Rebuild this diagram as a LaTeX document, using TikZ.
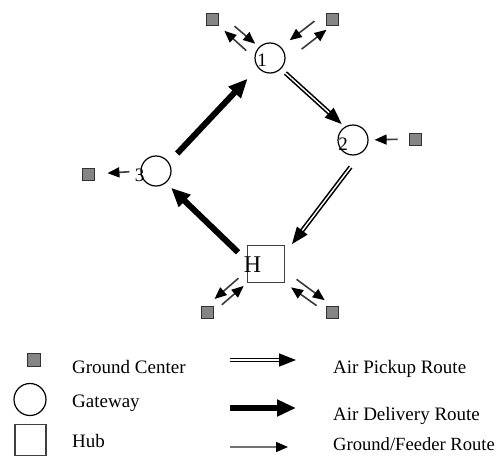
\documentclass[tikz,border=0pt]{standalone}
\usepackage{fontspec}
\setmainfont{Liberation Serif}
\usetikzlibrary{arrows.meta}
\definecolor{gcfill}{HTML}{858585}
\definecolor{feedline}{HTML}{3A3A3A}

\tikzset{
  gw/.style={circle, draw, line width=1.2pt, minimum size=30pt, inner sep=0pt},
  hub/.style={rectangle, draw=black!75, line width=1.6pt, minimum size=37pt, inner sep=0pt},
  gc/.style={rectangle, draw=black!80, fill=gcfill, line width=0.9pt, minimum size=12pt, inner sep=0pt},
  numlbl/.style={anchor=base, inner sep=0pt, font=\fontsize{19}{19}\selectfont},
  legtext/.style={anchor=base west, inner sep=0pt, font=\fontsize{19}{22}\selectfont},
  delivery/.style={line width=6pt, -{Triangle[length=19pt,width=16pt]}},
  pickup/.style={line width=1.6pt, double=white, double distance=1.4pt, -{Triangle[length=17pt,width=13pt]}},
  feeder/.style={draw=feedline, line width=1.6pt, -{Triangle[length=12pt,width=10pt,color=black]}},
}

\begin{document}
\begin{tikzpicture}[x=1pt, y=-1pt]
\useasboundingbox (0,0) rectangle (503,455);

\node[gw] (g1) at (270,58) {};
\node[gw] (g2) at (353,140) {};
\node[gw] (g3) at (156,171) {};
\node[hub] (hub) at (266,264) {};
\node[numlbl] (n1) at (262,66) {1};
\node[numlbl] (n2) at (343,150) {2};
\node[numlbl] (n3) at (139.5,181) {3};
\node[numlbl, font=\fontsize{24}{24}\selectfont] (nH) at (252.5,272) {H};

\node[gc] (gcA) at (212,19) {};
\node[gc] (gcB) at (332,19) {};
\node[gc] (gcC) at (415,139) {};
\node[gc] (gcD) at (88,174) {};
\node[gc] (gcE) at (207,312) {};
\node[gc] (gcF) at (332,312) {};

\draw[delivery, shorten <=12pt, shorten >=15pt] (g3.34) -- (g1.219);
\draw[delivery, shorten <=12pt, shorten >=7pt] (hub.170) -- (g3.-50);
\draw[pickup, shorten <=6pt, shorten >=4pt] (g1.-45) -- (g2.122);
\draw[pickup, shorten <=17pt, shorten >=11pt] (g2.-60) -- (hub.30);

\draw[feeder, shorten <=21pt, shorten >=5pt] (gcA.north east) -- (g1.135);
\draw[feeder, shorten <=11pt, shorten >=8pt] (g1.180) -- (gcA.south east);
\draw[feeder, shorten <=14pt, shorten >=11pt] (gcB.north west) -- (g1.45);
\draw[feeder, shorten <=21pt, shorten >=7pt] (g1.-15) -- (gcB.south);
\draw[feeder, shorten <=11pt, shorten >=6pt] (gcC.west) -- (g2.east);
\draw[feeder, shorten <=11pt, shorten >=13pt] (g3.west) -- (gcD.east);
\draw[feeder, shorten <=11pt, shorten >=10pt] (hub.200) -- (gcE.north);
\draw[feeder, shorten <=11pt, shorten >=4pt] (gcE.east) -- (hub.south west);
\draw[feeder, shorten <=14pt, shorten >=9pt] (hub.340) -- (gcF.north);
\draw[feeder, shorten <=11pt, shorten >=7pt] (gcF.west) -- (hub.south east);

\node[gc, minimum size=13pt] (lgc) at (34,359.5) {};
\node[gw, minimum size=32pt] (lgw) at (30,399.5) {};
\node[hub, minimum size=31pt] (lhub) at (30.5,440) {};
\node[legtext] (tgc) at (72,373) {Ground Center};
\node[legtext] (tgw) at (72,407) {Gateway};
\node[legtext] (thub) at (72,447) {Hub};

\coordinate (pa) at (230,360);
\coordinate (pb) at (296,360);
\coordinate (da) at (230,408);
\coordinate (db) at (296,408);
\coordinate (fa) at (230,447);
\coordinate (fb) at (288,447);
\draw[pickup] (pa) -- (pb);
\draw[delivery] (da) -- (db);
\draw[feeder, draw=black!55] (fa) -- (fb);
\node[legtext] (tpick) at (333,373) {Air Pickup Route};
\node[legtext] (tdel) at (333,420) {Air Delivery Route};
\node[legtext, font=\fontsize{18.6}{22}\selectfont] (tfeed) at (333,450) {Ground/Feeder Route};
\end{tikzpicture}
\end{document}
